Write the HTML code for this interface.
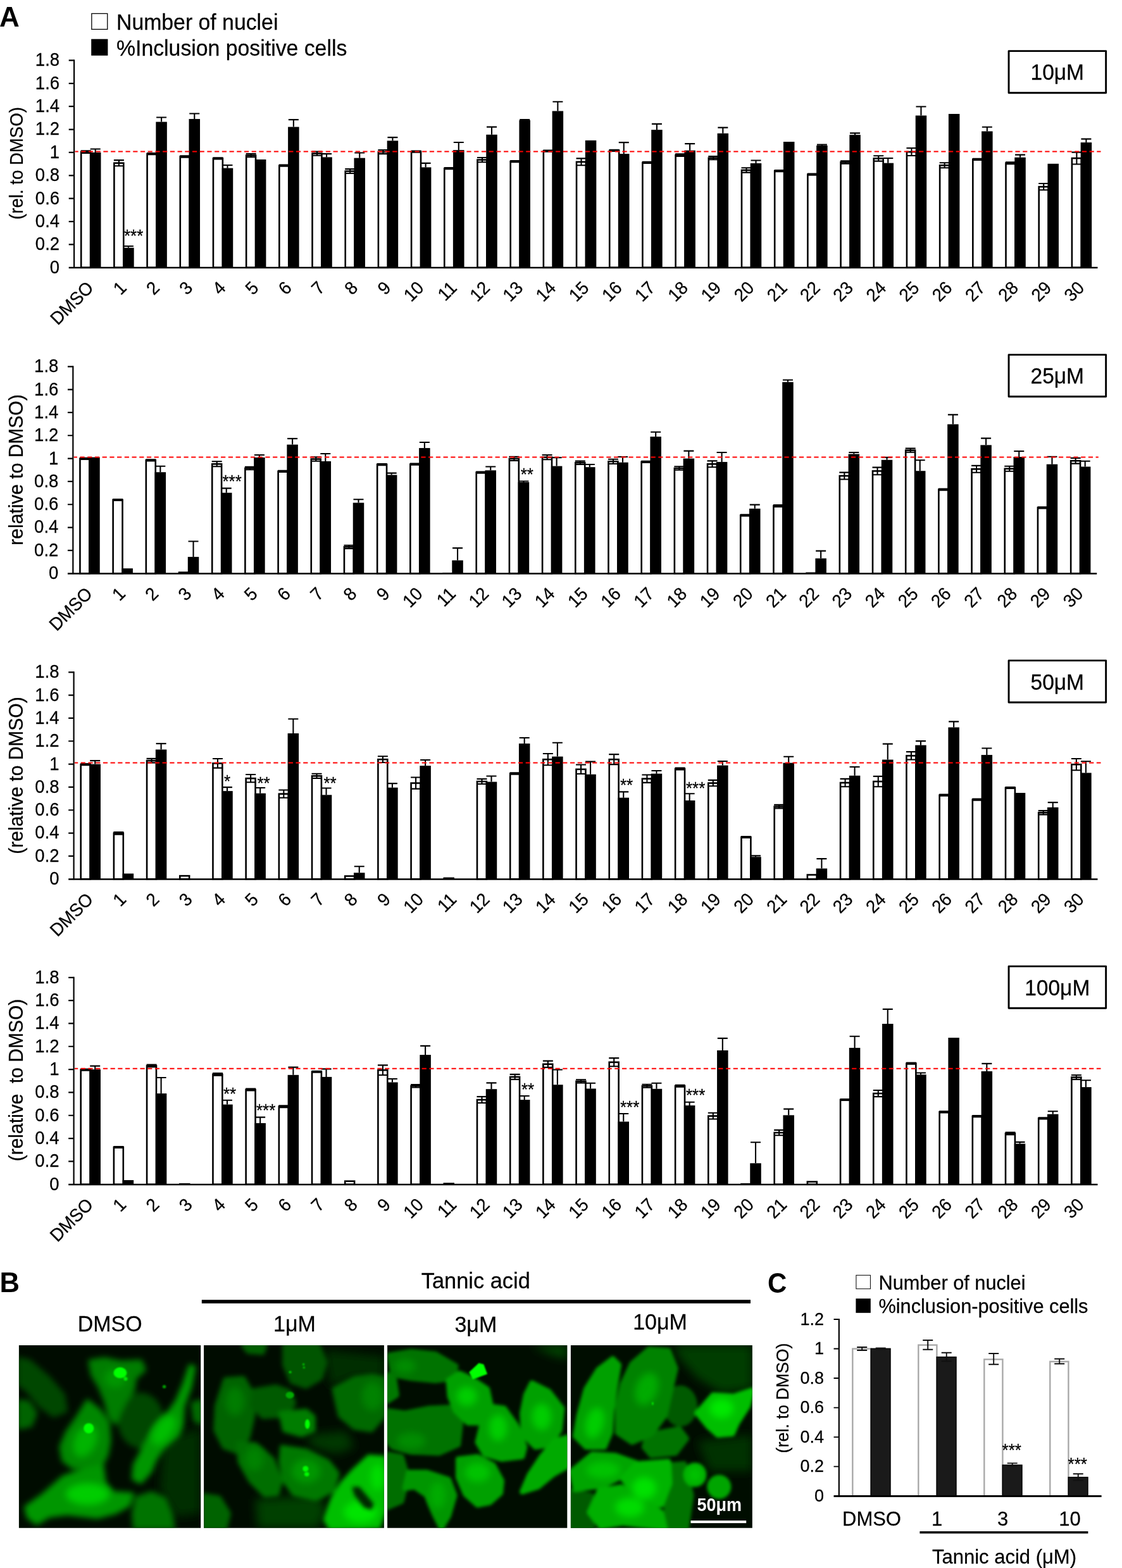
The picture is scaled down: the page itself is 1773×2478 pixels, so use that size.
<!DOCTYPE html>
<html lang="en"><head><meta charset="utf-8"><title>Figure</title>
<style>html,body{margin:0;padding:0;background:#fff}svg{display:block}text{font-family:"Liberation Sans",sans-serif;fill:#000;stroke:#000;stroke-width:.25px}.b{font-weight:bold;stroke-width:0}.w{fill:#fff;stroke:none}.tk{font-size:27.5px;text-anchor:end}.xl{font-size:27.5px;text-anchor:end}.st{font-size:26px}.bx{font-size:33.5px;text-anchor:middle}.lg{font-size:33.8px}.im{font-size:34px;text-anchor:middle}.ctk{font-size:26.9px;text-anchor:end}.cx{font-size:31px;text-anchor:middle}.cl{font-size:30.7px}.e{stroke:#000;stroke-width:2.1;fill:none}.wb{fill:#fff;stroke:#000;stroke-width:2.6}</style></head><body>
<svg width="1773" height="2478" viewBox="0 0 1773 2478">
<rect width="1773" height="2478" fill="#fff"/>
<text class="b" style="font-size:44px" transform="translate(-0.9 41.9) scale(1 1.01)">A</text>
<text class="b" style="font-size:43.5px" transform="translate(-0.6 2042.2) scale(1 1.02)">B</text>
<text class="b" style="font-size:42px" transform="translate(1213 2043.4) scale(1 1.04)">C</text>
<rect x="144.85" y="21.45" width="24.9" height="24.9" fill="#fff" stroke="#000" stroke-width="1.3"/>
<rect x="144.2" y="61.7" width="26.2" height="26.1" fill="#000"/>
<text class="lg" transform="translate(184 46.8) scale(1 1.04)">Number of nuclei</text>
<text class="lg" transform="translate(184 87.8) scale(1 1.04)">%Inclusion positive cells</text>
<g><rect class="wb" x="128.19" y="240.04" width="14.9" height="182.76"/><path d="M135.69 238.22V241.86M127.69 238.22h16M127.69 241.86h16" class="e"/><rect x="141.97" y="240.95" width="17.5" height="181.85" fill="#000"/><path d="M150.72 235.49V240.95M142.72 235.49h16" class="e"/><rect class="wb" x="180.39" y="257.68" width="14.9" height="165.12"/><path d="M187.89 253.13V262.23M179.89 253.13h16M179.89 262.23h16" class="e"/><rect x="194.16" y="391.52" width="17.5" height="31.28" fill="#000"/><path d="M202.91 388.98V391.52M194.91 388.98h16" class="e"/><rect class="wb" x="232.58" y="243.13" width="14.9" height="179.67"/><path d="M240.08 242.04V244.22M232.08 242.04h16M232.08 244.22h16" class="e"/><rect x="246.34" y="192.58" width="17.5" height="230.22" fill="#000"/><path d="M255.09 185.49V192.58M247.09 185.49h16" class="e"/><rect class="wb" x="284.76" y="247.5" width="14.9" height="175.3"/><path d="M292.26 246.41V248.59M284.26 246.41h16M284.26 248.59h16" class="e"/><rect x="298.53" y="188.03" width="17.5" height="234.77" fill="#000"/><path d="M307.28 179.48V188.03M299.28 179.48h16" class="e"/><rect class="wb" x="336.96" y="250.41" width="14.9" height="172.39"/><path d="M344.46 249.32V251.5M336.46 249.32h16M336.46 251.5h16" class="e"/><rect x="350.73" y="265.68" width="17.5" height="157.12" fill="#000"/><path d="M359.48 260.95V265.68M351.48 260.95h16" class="e"/><rect class="wb" x="389.14" y="245.68" width="14.9" height="177.12"/><path d="M396.64 243.13V248.22M388.64 243.13h16M388.64 248.22h16" class="e"/><rect x="402.91" y="252.04" width="17.5" height="170.76" fill="#000"/><rect class="wb" x="441.34" y="261.68" width="14.9" height="161.12"/><path d="M448.84 260.59V262.77M440.84 260.59h16M440.84 262.77h16" class="e"/><rect x="455.11" y="200.58" width="17.5" height="222.22" fill="#000"/><path d="M463.86 189.12V200.58M455.86 189.12h16" class="e"/><rect class="wb" x="493.52" y="242.59" width="14.9" height="180.21"/><path d="M501.02 239.5V245.68M493.02 239.5h16M493.02 245.68h16" class="e"/><rect x="507.29" y="248.41" width="17.5" height="174.39" fill="#000"/><path d="M516.04 243.13V248.41M508.04 243.13h16" class="e"/><rect class="wb" x="545.71" y="270.59" width="14.9" height="152.21"/><path d="M553.21 267.14V274.05M545.21 267.14h16M545.21 274.05h16" class="e"/><rect x="559.49" y="249.68" width="17.5" height="173.12" fill="#000"/><path d="M568.24 241.5V249.68M560.24 241.5h16" class="e"/><rect class="wb" x="597.9" y="240.04" width="14.9" height="182.76"/><path d="M605.4 236.95V243.13M597.4 236.95h16M597.4 243.13h16" class="e"/><rect x="611.67" y="222.4" width="17.5" height="200.4" fill="#000"/><path d="M620.42 217.13V222.4M612.42 217.13h16" class="e"/><rect class="wb" x="650.09" y="239.68" width="14.9" height="183.12"/><path d="M657.59 238.59V240.77M649.59 238.59h16M649.59 240.77h16" class="e"/><rect x="663.87" y="264.41" width="17.5" height="158.39" fill="#000"/><path d="M672.62 257.86V264.41M664.62 257.86h16" class="e"/><rect class="wb" x="702.28" y="266.23" width="14.9" height="156.57"/><path d="M709.78 265.14V267.32M701.78 265.14h16M701.78 267.32h16" class="e"/><rect x="716.05" y="237.13" width="17.5" height="185.67" fill="#000"/><path d="M724.8 224.95V237.13M716.8 224.95h16" class="e"/><rect class="wb" x="754.47" y="252.59" width="14.9" height="170.21"/><path d="M761.97 248.95V256.23M753.97 248.95h16M753.97 256.23h16" class="e"/><rect x="768.25" y="212.76" width="17.5" height="210.04" fill="#000"/><path d="M777 200.58V212.76M769 200.58h16" class="e"/><rect class="wb" x="806.66" y="255.13" width="14.9" height="167.67"/><path d="M814.16 254.04V256.23M806.16 254.04h16M806.16 256.23h16" class="e"/><rect x="820.43" y="190.03" width="17.5" height="232.77" fill="#000"/><path d="M829.18 188.94V190.03M821.18 188.94h16" class="e"/><rect class="wb" x="858.85" y="238.59" width="14.9" height="184.21"/><path d="M866.35 237.49V239.68M858.35 237.49h16M858.35 239.68h16" class="e"/><rect x="872.62" y="175.48" width="17.5" height="247.32" fill="#000"/><path d="M881.38 160.75V175.48M873.38 160.75h16" class="e"/><rect class="wb" x="911.04" y="255.86" width="14.9" height="166.94"/><path d="M918.54 250.41V261.32M910.54 250.41h16M910.54 261.32h16" class="e"/><rect x="924.81" y="221.86" width="17.5" height="200.94" fill="#000"/><rect class="wb" x="963.23" y="237.86" width="14.9" height="184.94"/><path d="M970.73 236.77V238.95M962.73 236.77h16M962.73 238.95h16" class="e"/><rect x="977" y="243.13" width="17.5" height="179.67" fill="#000"/><path d="M985.75 225.13V243.13M977.75 225.13h16" class="e"/><rect class="wb" x="1015.42" y="256.95" width="14.9" height="165.85"/><path d="M1022.92 255.86V258.04M1014.92 255.86h16M1014.92 258.04h16" class="e"/><rect x="1029.19" y="205.13" width="17.5" height="217.67" fill="#000"/><path d="M1037.94 195.85V205.13M1029.94 195.85h16" class="e"/><rect class="wb" x="1067.61" y="245.13" width="14.9" height="177.67"/><path d="M1075.11 243.31V246.95M1067.11 243.31h16M1067.11 246.95h16" class="e"/><rect x="1081.38" y="237.68" width="17.5" height="185.12" fill="#000"/><path d="M1090.13 227.13V237.68M1082.13 227.13h16" class="e"/><rect class="wb" x="1119.8" y="249.68" width="14.9" height="173.12"/><path d="M1127.3 247.13V252.22M1119.3 247.13h16M1119.3 252.22h16" class="e"/><rect x="1133.57" y="210.76" width="17.5" height="212.04" fill="#000"/><path d="M1142.32 201.67V210.76M1134.32 201.67h16" class="e"/><rect class="wb" x="1171.99" y="268.95" width="14.9" height="153.85"/><path d="M1179.49 265.32V272.59M1171.49 265.32h16M1171.49 272.59h16" class="e"/><rect x="1185.76" y="258.04" width="17.5" height="164.76" fill="#000"/><path d="M1194.51 253.5V258.04M1186.51 253.5h16" class="e"/><rect class="wb" x="1224.18" y="270.05" width="14.9" height="152.75"/><path d="M1231.68 268.95V271.14M1223.68 268.95h16M1223.68 271.14h16" class="e"/><rect x="1237.95" y="224.04" width="17.5" height="198.76" fill="#000"/><rect class="wb" x="1276.37" y="275.68" width="14.9" height="147.12"/><path d="M1283.87 274.59V276.77M1275.87 274.59h16M1275.87 276.77h16" class="e"/><rect x="1290.14" y="230.04" width="17.5" height="192.76" fill="#000"/><path d="M1298.89 228.58V230.04M1290.89 228.58h16" class="e"/><rect class="wb" x="1328.56" y="256.41" width="14.9" height="166.39"/><path d="M1336.06 254.23V258.59M1328.06 254.23h16M1328.06 258.59h16" class="e"/><rect x="1342.33" y="213.13" width="17.5" height="209.67" fill="#000"/><path d="M1351.08 210.4V213.13M1343.08 210.4h16" class="e"/><rect class="wb" x="1380.75" y="250.41" width="14.9" height="172.39"/><path d="M1388.25 246.22V254.59M1380.25 246.22h16M1380.25 254.59h16" class="e"/><rect x="1394.52" y="257.68" width="17.5" height="165.12" fill="#000"/><path d="M1403.27 250.04V257.68M1395.27 250.04h16" class="e"/><rect class="wb" x="1432.94" y="240.04" width="14.9" height="182.76"/><path d="M1440.44 234.04V246.04M1432.44 234.04h16M1432.44 246.04h16" class="e"/><rect x="1446.71" y="182.58" width="17.5" height="240.22" fill="#000"/><path d="M1455.46 168.57V182.58M1447.46 168.57h16" class="e"/><rect class="wb" x="1485.13" y="261.32" width="14.9" height="161.48"/><path d="M1492.63 257.32V265.32M1484.63 257.32h16M1484.63 265.32h16" class="e"/><rect x="1498.9" y="180.03" width="17.5" height="242.77" fill="#000"/><rect class="wb" x="1537.32" y="251.86" width="14.9" height="170.94"/><path d="M1544.82 250.77V252.95M1536.82 250.77h16M1536.82 252.95h16" class="e"/><rect x="1551.09" y="207.49" width="17.5" height="215.31" fill="#000"/><path d="M1559.84 200.76V207.49M1551.84 200.76h16" class="e"/><rect class="wb" x="1589.51" y="257.68" width="14.9" height="165.12"/><path d="M1597.01 256.23V259.13M1589.01 256.23h16M1589.01 259.13h16" class="e"/><rect x="1603.28" y="248.77" width="17.5" height="174.03" fill="#000"/><path d="M1612.03 244.59V248.77M1604.03 244.59h16" class="e"/><rect class="wb" x="1641.7" y="295.14" width="14.9" height="127.66"/><path d="M1649.2 290.05V300.23M1641.2 290.05h16M1641.2 300.23h16" class="e"/><rect x="1655.47" y="258.77" width="17.5" height="164.03" fill="#000"/><rect class="wb" x="1693.89" y="250.04" width="14.9" height="172.76"/><path d="M1701.39 240.59V259.5M1693.39 240.59h16M1693.39 259.5h16" class="e"/><rect x="1707.66" y="225.13" width="17.5" height="197.67" fill="#000"/><path d="M1716.41 219.67V225.13M1708.41 219.67h16" class="e"/></g>
<path d="M117.1 94.37V423.8" stroke="#000" stroke-width="2.2" fill="none"/>
<path d="M108.7 423H1734.5" stroke="#000" stroke-width="2.6" fill="none"/>
<path d="M108.7 386.43h8.4M108.7 350.06h8.4M108.7 313.69h8.4M108.7 277.32h8.4M108.7 240.95h8.4M108.7 204.58h8.4M108.7 168.21h8.4M108.7 131.84h8.4M108.7 95.47h8.4" stroke="#000" stroke-width="2.2" fill="none"/>
<text class="tk" transform="translate(94.1 431.7) scale(1 1.04)">0</text>
<text class="tk" transform="translate(94.1 395.33) scale(1 1.04)">0.2</text>
<text class="tk" transform="translate(94.1 358.96) scale(1 1.04)">0.4</text>
<text class="tk" transform="translate(94.1 322.59) scale(1 1.04)">0.6</text>
<text class="tk" transform="translate(94.1 286.22) scale(1 1.04)">0.8</text>
<text class="tk" transform="translate(94.1 249.85) scale(1 1.04)">1</text>
<text class="tk" transform="translate(94.1 213.48) scale(1 1.04)">1.2</text>
<text class="tk" transform="translate(94.1 177.11) scale(1 1.04)">1.4</text>
<text class="tk" transform="translate(94.1 140.74) scale(1 1.04)">1.6</text>
<text class="tk" transform="translate(94.1 104.37) scale(1 1.04)">1.8</text>
<path d="M118.5 239.5H1739.5" stroke="#f00" stroke-width="2" stroke-dasharray="7.2 4.516" stroke-dashoffset="2" fill="none"/>
<text class="xl" transform="translate(149.5 456.7) rotate(-45) scale(1 1.04)">DMSO</text>
<text class="xl" transform="translate(201.69 456.7) rotate(-45) scale(1 1.04)">1</text>
<text class="xl" transform="translate(253.88 456.7) rotate(-45) scale(1 1.04)">2</text>
<text class="xl" transform="translate(306.06 456.7) rotate(-45) scale(1 1.04)">3</text>
<text class="xl" transform="translate(358.25 456.7) rotate(-45) scale(1 1.04)">4</text>
<text class="xl" transform="translate(410.44 456.7) rotate(-45) scale(1 1.04)">5</text>
<text class="xl" transform="translate(462.63 456.7) rotate(-45) scale(1 1.04)">6</text>
<text class="xl" transform="translate(514.82 456.7) rotate(-45) scale(1 1.04)">7</text>
<text class="xl" transform="translate(567.01 456.7) rotate(-45) scale(1 1.04)">8</text>
<text class="xl" transform="translate(619.2 456.7) rotate(-45) scale(1 1.04)">9</text>
<text class="xl" transform="translate(671.39 456.7) rotate(-45) scale(1 1.04)">10</text>
<text class="xl" transform="translate(723.58 456.7) rotate(-45) scale(1 1.04)">11</text>
<text class="xl" transform="translate(775.77 456.7) rotate(-45) scale(1 1.04)">12</text>
<text class="xl" transform="translate(827.96 456.7) rotate(-45) scale(1 1.04)">13</text>
<text class="xl" transform="translate(880.15 456.7) rotate(-45) scale(1 1.04)">14</text>
<text class="xl" transform="translate(932.34 456.7) rotate(-45) scale(1 1.04)">15</text>
<text class="xl" transform="translate(984.53 456.7) rotate(-45) scale(1 1.04)">16</text>
<text class="xl" transform="translate(1036.72 456.7) rotate(-45) scale(1 1.04)">17</text>
<text class="xl" transform="translate(1088.91 456.7) rotate(-45) scale(1 1.04)">18</text>
<text class="xl" transform="translate(1141.11 456.7) rotate(-45) scale(1 1.04)">19</text>
<text class="xl" transform="translate(1193.3 456.7) rotate(-45) scale(1 1.04)">20</text>
<text class="xl" transform="translate(1245.49 456.7) rotate(-45) scale(1 1.04)">21</text>
<text class="xl" transform="translate(1297.67 456.7) rotate(-45) scale(1 1.04)">22</text>
<text class="xl" transform="translate(1349.87 456.7) rotate(-45) scale(1 1.04)">23</text>
<text class="xl" transform="translate(1402.06 456.7) rotate(-45) scale(1 1.04)">24</text>
<text class="xl" transform="translate(1454.25 456.7) rotate(-45) scale(1 1.04)">25</text>
<text class="xl" transform="translate(1506.43 456.7) rotate(-45) scale(1 1.04)">26</text>
<text class="xl" transform="translate(1558.62 456.7) rotate(-45) scale(1 1.04)">27</text>
<text class="xl" transform="translate(1610.82 456.7) rotate(-45) scale(1 1.04)">28</text>
<text class="xl" transform="translate(1663.01 456.7) rotate(-45) scale(1 1.04)">29</text>
<text class="xl" transform="translate(1715.19 456.7) rotate(-45) scale(1 1.04)">30</text>
<text style="font-size:27.6px" text-anchor="middle" transform="translate(35.5 258) rotate(-90) scale(1 1.04)" xml:space="preserve">(rel. to DMSO)</text>
<rect x="1594.05" y="80.65" width="153.6" height="66.15" fill="#fff" stroke="#000" stroke-width="2.9" stroke-linejoin="round"/>
<text class="bx" transform="translate(1670.75 126.4) scale(1 1.04)">10μM</text>
<text class="st" transform="translate(196 381.7) scale(1 1.04)">***</text>
<g><rect class="wb" x="126.44" y="724.78" width="14.9" height="181.47"/><path d="M133.94 723.69V725.87M125.94 723.69h16M125.94 725.87h16" class="e"/><rect x="140.22" y="722.6" width="17.5" height="183.65" fill="#000"/><rect class="wb" x="178.64" y="789.99" width="14.9" height="116.26"/><path d="M186.14 789.09V790.9M178.14 789.09h16M178.14 790.9h16" class="e"/><rect x="192.41" y="898.26" width="17.5" height="7.99" fill="#000"/><rect class="wb" x="230.83" y="727.32" width="14.9" height="178.93"/><path d="M238.33 726.23V728.41M230.33 726.23h16M230.33 728.41h16" class="e"/><rect x="244.59" y="746.22" width="17.5" height="160.03" fill="#000"/><path d="M253.34 736.77V746.22M245.34 736.77h16" class="e"/><rect x="281.71" y="903.34" width="17.5" height="2.91" fill="#000"/><rect x="296.78" y="880.09" width="17.5" height="26.16" fill="#000"/><path d="M305.53 855.57V880.09M297.53 855.57h16" class="e"/><rect class="wb" x="335.21" y="733.32" width="14.9" height="172.93"/><path d="M342.71 729.32V737.32M334.71 729.32h16M334.71 737.32h16" class="e"/><rect x="348.98" y="778.73" width="17.5" height="127.52" fill="#000"/><path d="M357.73 771.65V778.73M349.73 771.65h16" class="e"/><rect class="wb" x="387.39" y="740.04" width="14.9" height="166.21"/><path d="M394.89 737.86V742.22M386.89 737.86h16M386.89 742.22h16" class="e"/><rect x="401.16" y="722.97" width="17.5" height="183.28" fill="#000"/><path d="M409.91 718.97V722.97M401.91 718.97h16" class="e"/><rect class="wb" x="439.59" y="744.94" width="14.9" height="161.31"/><path d="M447.09 743.85V746.03M439.09 743.85h16M439.09 746.03h16" class="e"/><rect x="453.36" y="702.62" width="17.5" height="203.63" fill="#000"/><path d="M462.11 693.17V702.62M454.11 693.17h16" class="e"/><rect class="wb" x="491.77" y="725.51" width="14.9" height="180.74"/><path d="M499.27 722.24V728.78M491.27 722.24h16M491.27 728.78h16" class="e"/><rect x="505.54" y="728.96" width="17.5" height="177.29" fill="#000"/><path d="M514.29 716.97V728.96M506.29 716.97h16" class="e"/><rect class="wb" x="543.96" y="864.29" width="14.9" height="41.96"/><path d="M551.46 861.75V866.83M543.46 861.75h16M543.46 866.83h16" class="e"/><rect x="557.74" y="794.54" width="17.5" height="111.71" fill="#000"/><path d="M566.49 789.27V794.54M558.49 789.27h16" class="e"/><rect class="wb" x="596.15" y="734.05" width="14.9" height="172.2"/><path d="M603.65 732.96V735.14M595.65 732.96h16M595.65 735.14h16" class="e"/><rect x="609.92" y="750.58" width="17.5" height="155.67" fill="#000"/><path d="M618.67 747.67V750.58M610.67 747.67h16" class="e"/><rect class="wb" x="648.34" y="733.68" width="14.9" height="172.57"/><path d="M655.84 732.59V734.77M647.84 732.59h16M647.84 734.77h16" class="e"/><rect x="662.12" y="708.07" width="17.5" height="198.18" fill="#000"/><path d="M670.87 698.99V708.07M662.87 698.99h16" class="e"/><rect x="699.23" y="904.98" width="17.5" height="1.27" fill="#000"/><rect x="714.3" y="885.54" width="17.5" height="20.71" fill="#000"/><path d="M723.05 866.11V885.54M715.05 866.11h16" class="e"/><rect class="wb" x="752.72" y="746.58" width="14.9" height="159.67"/><path d="M760.22 745.49V747.67M752.22 745.49h16M752.22 747.67h16" class="e"/><rect x="766.5" y="743.31" width="17.5" height="162.94" fill="#000"/><path d="M775.25 737.5V743.31M767.25 737.5h16" class="e"/><rect class="wb" x="804.91" y="724.96" width="14.9" height="181.29"/><path d="M812.41 721.88V728.05M804.41 721.88h16M804.41 728.05h16" class="e"/><rect x="818.68" y="762.02" width="17.5" height="144.23" fill="#000"/><path d="M827.43 760.57V762.02M819.43 760.57h16" class="e"/><rect class="wb" x="857.1" y="722.6" width="14.9" height="183.65"/><path d="M864.6 718.97V726.23M856.6 718.97h16M856.6 726.23h16" class="e"/><rect x="870.88" y="736.59" width="17.5" height="169.66" fill="#000"/><path d="M879.62 723.15V736.59M871.62 723.15h16" class="e"/><rect class="wb" x="909.29" y="731.32" width="14.9" height="174.93"/><path d="M916.79 728.6V734.05M908.79 728.6h16M908.79 734.05h16" class="e"/><rect x="923.06" y="738.22" width="17.5" height="168.03" fill="#000"/><path d="M931.81 734.05V738.22M923.81 734.05h16" class="e"/><rect class="wb" x="961.48" y="729.32" width="14.9" height="176.93"/><path d="M968.98 725.69V732.96M960.98 725.69h16M960.98 732.96h16" class="e"/><rect x="975.25" y="730.78" width="17.5" height="175.47" fill="#000"/><path d="M984 722.06V730.78M976 722.06h16" class="e"/><rect class="wb" x="1013.67" y="729.87" width="14.9" height="176.38"/><path d="M1021.17 728.78V730.96M1013.17 728.78h16M1013.17 730.96h16" class="e"/><rect x="1027.44" y="690.09" width="17.5" height="216.16" fill="#000"/><path d="M1036.19 682.82V690.09M1028.19 682.82h16" class="e"/><rect class="wb" x="1065.86" y="740.04" width="14.9" height="166.21"/><path d="M1073.36 737.32V742.76M1065.36 737.32h16M1065.36 742.76h16" class="e"/><rect x="1079.63" y="724.6" width="17.5" height="181.65" fill="#000"/><path d="M1088.38 712.61V724.6M1080.38 712.61h16" class="e"/><rect class="wb" x="1118.05" y="733.32" width="14.9" height="172.93"/><path d="M1125.55 728.41V738.22M1117.55 728.41h16M1117.55 738.22h16" class="e"/><rect x="1131.82" y="730.05" width="17.5" height="176.2" fill="#000"/><path d="M1140.57 714.97V730.05M1132.57 714.97h16" class="e"/><rect class="wb" x="1170.24" y="814.34" width="14.9" height="91.91"/><path d="M1177.74 813.25V815.42M1169.74 813.25h16M1169.74 815.42h16" class="e"/><rect x="1184.01" y="803.8" width="17.5" height="102.45" fill="#000"/><path d="M1192.76 797.62V803.8M1184.76 797.62h16" class="e"/><rect class="wb" x="1222.43" y="799.44" width="14.9" height="106.81"/><path d="M1229.93 797.99V800.89M1221.93 797.99h16M1221.93 800.89h16" class="e"/><rect x="1236.2" y="603.8" width="17.5" height="302.45" fill="#000"/><path d="M1244.95 600.53V603.8M1236.95 600.53h16" class="e"/><rect x="1273.32" y="904.43" width="17.5" height="1.82" fill="#000"/><rect x="1288.39" y="882.45" width="17.5" height="23.8" fill="#000"/><path d="M1297.14 870.65V882.45M1289.14 870.65h16" class="e"/><rect class="wb" x="1326.81" y="752.03" width="14.9" height="154.22"/><path d="M1334.31 746.58V757.48M1326.31 746.58h16M1326.31 757.48h16" class="e"/><rect x="1340.58" y="717.52" width="17.5" height="188.73" fill="#000"/><path d="M1349.33 714.97V717.52M1341.33 714.97h16" class="e"/><rect class="wb" x="1379" y="744.4" width="14.9" height="161.85"/><path d="M1386.5 738.59V750.21M1378.5 738.59h16M1378.5 750.21h16" class="e"/><rect x="1392.77" y="726.78" width="17.5" height="179.47" fill="#000"/><path d="M1401.52 722.78V726.78M1393.52 722.78h16" class="e"/><rect class="wb" x="1431.19" y="711.7" width="14.9" height="194.55"/><path d="M1438.69 708.61V714.79M1430.69 708.61h16M1430.69 714.79h16" class="e"/><rect x="1444.96" y="744.22" width="17.5" height="162.03" fill="#000"/><path d="M1453.71 727.32V744.22M1445.71 727.32h16" class="e"/><rect class="wb" x="1483.38" y="773.65" width="14.9" height="132.6"/><path d="M1490.88 772.56V774.74M1482.88 772.56h16M1482.88 774.74h16" class="e"/><rect x="1497.15" y="670.47" width="17.5" height="235.78" fill="#000"/><path d="M1505.9 655.39V670.47M1497.9 655.39h16" class="e"/><rect class="wb" x="1535.57" y="741.31" width="14.9" height="164.94"/><path d="M1543.07 735.86V746.76M1535.07 735.86h16M1535.07 746.76h16" class="e"/><rect x="1549.34" y="703.35" width="17.5" height="202.9" fill="#000"/><path d="M1558.09 692.63V703.35M1550.09 692.63h16" class="e"/><rect class="wb" x="1587.76" y="740.77" width="14.9" height="165.48"/><path d="M1595.26 736.77V744.76M1587.26 736.77h16M1587.26 744.76h16" class="e"/><rect x="1601.53" y="722.06" width="17.5" height="184.19" fill="#000"/><path d="M1610.28 712.97V722.06M1602.28 712.97h16" class="e"/><rect class="wb" x="1639.95" y="802.35" width="14.9" height="103.9"/><path d="M1647.45 801.26V803.44M1639.45 801.26h16M1639.45 803.44h16" class="e"/><rect x="1653.72" y="733.68" width="17.5" height="172.57" fill="#000"/><path d="M1662.47 721.69V733.68M1654.47 721.69h16" class="e"/><rect class="wb" x="1692.14" y="728.23" width="14.9" height="178.02"/><path d="M1699.64 723.87V732.59M1691.64 723.87h16M1691.64 732.59h16" class="e"/><rect x="1705.91" y="737.5" width="17.5" height="168.75" fill="#000"/><path d="M1714.66 728.78V737.5M1706.66 728.78h16" class="e"/></g>
<path d="M115.35 578.18V907.25" stroke="#000" stroke-width="2.2" fill="none"/>
<path d="M106.95 906.45H1733.25" stroke="#000" stroke-width="2.6" fill="none"/>
<path d="M106.95 869.92h8.4M106.95 833.59h8.4M106.95 797.26h8.4M106.95 760.93h8.4M106.95 724.6h8.4M106.95 688.27h8.4M106.95 651.94h8.4M106.95 615.61h8.4M106.95 579.28h8.4" stroke="#000" stroke-width="2.2" fill="none"/>
<text class="tk" transform="translate(92.35 915.15) scale(1 1.04)">0</text>
<text class="tk" transform="translate(92.35 878.82) scale(1 1.04)">0.2</text>
<text class="tk" transform="translate(92.35 842.49) scale(1 1.04)">0.4</text>
<text class="tk" transform="translate(92.35 806.16) scale(1 1.04)">0.6</text>
<text class="tk" transform="translate(92.35 769.83) scale(1 1.04)">0.8</text>
<text class="tk" transform="translate(92.35 733.5) scale(1 1.04)">1</text>
<text class="tk" transform="translate(92.35 697.17) scale(1 1.04)">1.2</text>
<text class="tk" transform="translate(92.35 660.84) scale(1 1.04)">1.4</text>
<text class="tk" transform="translate(92.35 624.51) scale(1 1.04)">1.6</text>
<text class="tk" transform="translate(92.35 588.18) scale(1 1.04)">1.8</text>
<path d="M116.75 722.5H1735.75" stroke="#f00" stroke-width="2" stroke-dasharray="7.2 4.516" stroke-dashoffset="2" fill="none"/>
<text class="xl" transform="translate(147.75 940.15) rotate(-45) scale(1 1.04)">DMSO</text>
<text class="xl" transform="translate(199.94 940.15) rotate(-45) scale(1 1.04)">1</text>
<text class="xl" transform="translate(252.12 940.15) rotate(-45) scale(1 1.04)">2</text>
<text class="xl" transform="translate(304.31 940.15) rotate(-45) scale(1 1.04)">3</text>
<text class="xl" transform="translate(356.5 940.15) rotate(-45) scale(1 1.04)">4</text>
<text class="xl" transform="translate(408.69 940.15) rotate(-45) scale(1 1.04)">5</text>
<text class="xl" transform="translate(460.88 940.15) rotate(-45) scale(1 1.04)">6</text>
<text class="xl" transform="translate(513.07 940.15) rotate(-45) scale(1 1.04)">7</text>
<text class="xl" transform="translate(565.26 940.15) rotate(-45) scale(1 1.04)">8</text>
<text class="xl" transform="translate(617.45 940.15) rotate(-45) scale(1 1.04)">9</text>
<text class="xl" transform="translate(669.64 940.15) rotate(-45) scale(1 1.04)">10</text>
<text class="xl" transform="translate(721.83 940.15) rotate(-45) scale(1 1.04)">11</text>
<text class="xl" transform="translate(774.02 940.15) rotate(-45) scale(1 1.04)">12</text>
<text class="xl" transform="translate(826.21 940.15) rotate(-45) scale(1 1.04)">13</text>
<text class="xl" transform="translate(878.4 940.15) rotate(-45) scale(1 1.04)">14</text>
<text class="xl" transform="translate(930.59 940.15) rotate(-45) scale(1 1.04)">15</text>
<text class="xl" transform="translate(982.78 940.15) rotate(-45) scale(1 1.04)">16</text>
<text class="xl" transform="translate(1034.97 940.15) rotate(-45) scale(1 1.04)">17</text>
<text class="xl" transform="translate(1087.16 940.15) rotate(-45) scale(1 1.04)">18</text>
<text class="xl" transform="translate(1139.36 940.15) rotate(-45) scale(1 1.04)">19</text>
<text class="xl" transform="translate(1191.55 940.15) rotate(-45) scale(1 1.04)">20</text>
<text class="xl" transform="translate(1243.74 940.15) rotate(-45) scale(1 1.04)">21</text>
<text class="xl" transform="translate(1295.92 940.15) rotate(-45) scale(1 1.04)">22</text>
<text class="xl" transform="translate(1348.12 940.15) rotate(-45) scale(1 1.04)">23</text>
<text class="xl" transform="translate(1400.31 940.15) rotate(-45) scale(1 1.04)">24</text>
<text class="xl" transform="translate(1452.5 940.15) rotate(-45) scale(1 1.04)">25</text>
<text class="xl" transform="translate(1504.68 940.15) rotate(-45) scale(1 1.04)">26</text>
<text class="xl" transform="translate(1556.88 940.15) rotate(-45) scale(1 1.04)">27</text>
<text class="xl" transform="translate(1609.07 940.15) rotate(-45) scale(1 1.04)">28</text>
<text class="xl" transform="translate(1661.26 940.15) rotate(-45) scale(1 1.04)">29</text>
<text class="xl" transform="translate(1713.44 940.15) rotate(-45) scale(1 1.04)">30</text>
<text style="font-size:30px" text-anchor="middle" transform="translate(35.5 742.5) rotate(-90) scale(1 1.04)" xml:space="preserve">relative to DMSO)</text>
<rect x="1594.05" y="560.65" width="153.6" height="66.15" fill="#fff" stroke="#000" stroke-width="2.9" stroke-linejoin="round"/>
<text class="bx" transform="translate(1670.75 606.4) scale(1 1.04)">25μM</text>
<text class="st" transform="translate(351.5 769.7) scale(1 1.04)">***</text>
<text class="st" transform="translate(822.75 758.7) scale(1 1.04)">**</text>
<g><rect class="wb" x="127.69" y="1208.14" width="14.9" height="181.11"/><path d="M135.19 1207.06V1209.23M127.19 1207.06h16M127.19 1209.23h16" class="e"/><rect x="141.47" y="1207.6" width="17.5" height="181.65" fill="#000"/><path d="M150.22 1202.15V1207.6M142.22 1202.15h16" class="e"/><rect class="wb" x="179.89" y="1316.77" width="14.9" height="72.48"/><path d="M187.39 1314.96V1318.59M179.39 1314.96h16M179.39 1318.59h16" class="e"/><rect x="193.66" y="1380.53" width="17.5" height="8.72" fill="#000"/><rect class="wb" x="232.08" y="1202.15" width="14.9" height="187.1"/><path d="M239.58 1198.88V1205.42M231.58 1198.88h16M231.58 1205.42h16" class="e"/><rect x="245.84" y="1184.53" width="17.5" height="204.72" fill="#000"/><path d="M254.59 1175.08V1184.53M246.59 1175.08h16" class="e"/><rect class="wb" x="284.26" y="1384.16" width="14.9" height="5.09"/><rect class="wb" x="336.46" y="1206.33" width="14.9" height="182.92"/><path d="M343.96 1199.06V1213.59M335.96 1199.06h16M335.96 1213.59h16" class="e"/><rect x="350.23" y="1250.11" width="17.5" height="139.14" fill="#000"/><path d="M358.98 1244.11V1250.11M350.98 1244.11h16" class="e"/><rect class="wb" x="388.64" y="1230.12" width="14.9" height="159.13"/><path d="M396.14 1223.95V1236.3M388.14 1223.95h16M388.14 1236.3h16" class="e"/><rect x="402.41" y="1253.74" width="17.5" height="135.51" fill="#000"/><path d="M411.16 1245.02V1253.74M403.16 1245.02h16" class="e"/><rect class="wb" x="440.84" y="1254.65" width="14.9" height="134.6"/><path d="M448.34 1248.47V1260.82M440.34 1248.47h16M440.34 1260.82h16" class="e"/><rect x="454.61" y="1158.92" width="17.5" height="230.33" fill="#000"/><path d="M463.36 1136.21V1158.92M455.36 1136.21h16" class="e"/><rect class="wb" x="493.02" y="1226.31" width="14.9" height="162.94"/><path d="M500.52 1222.68V1229.94M492.52 1222.68h16M492.52 1229.94h16" class="e"/><rect x="506.79" y="1256.28" width="17.5" height="132.97" fill="#000"/><path d="M515.54 1245.56V1256.28M507.54 1245.56h16" class="e"/><rect class="wb" x="545.21" y="1384.53" width="14.9" height="4.72"/><rect x="558.99" y="1379.26" width="17.5" height="9.99" fill="#000"/><path d="M567.74 1369.27V1379.26M559.74 1369.27h16" class="e"/><rect class="wb" x="597.4" y="1200.15" width="14.9" height="189.1"/><path d="M604.9 1195.25V1205.06M596.9 1195.25h16M596.9 1205.06h16" class="e"/><rect x="611.17" y="1244.66" width="17.5" height="144.59" fill="#000"/><path d="M619.92 1238.12V1244.66M611.92 1238.12h16" class="e"/><rect class="wb" x="649.59" y="1237.57" width="14.9" height="151.68"/><path d="M657.09 1228.49V1246.65M649.09 1228.49h16M649.09 1246.65h16" class="e"/><rect x="663.37" y="1210.14" width="17.5" height="179.11" fill="#000"/><path d="M672.12 1201.06V1210.14M664.12 1201.06h16" class="e"/><rect x="700.48" y="1386.53" width="17.5" height="2.72" fill="#000"/><rect class="wb" x="753.97" y="1235.03" width="14.9" height="154.22"/><path d="M761.47 1231.03V1239.03M753.47 1231.03h16M753.47 1239.03h16" class="e"/><rect x="767.75" y="1235.57" width="17.5" height="153.68" fill="#000"/><path d="M776.5 1226.49V1235.57M768.5 1226.49h16" class="e"/><rect class="wb" x="806.16" y="1222.5" width="14.9" height="166.75"/><path d="M813.66 1221.41V1223.59M805.66 1221.41h16M805.66 1223.59h16" class="e"/><rect x="819.93" y="1175.08" width="17.5" height="214.17" fill="#000"/><path d="M828.68 1166V1175.08M820.68 1166h16" class="e"/><rect class="wb" x="858.35" y="1200.15" width="14.9" height="189.1"/><path d="M865.85 1191.07V1209.23M857.85 1191.07h16M857.85 1209.23h16" class="e"/><rect x="872.12" y="1195.61" width="17.5" height="193.64" fill="#000"/><path d="M880.88 1173.81V1195.61M872.88 1173.81h16" class="e"/><rect class="wb" x="910.54" y="1215.77" width="14.9" height="173.48"/><path d="M918.04 1208.51V1223.04M910.04 1208.51h16M910.04 1223.04h16" class="e"/><rect x="924.31" y="1223.77" width="17.5" height="165.48" fill="#000"/><path d="M933.06 1203.6V1223.77M925.06 1203.6h16" class="e"/><rect class="wb" x="962.73" y="1200.15" width="14.9" height="189.1"/><path d="M970.23 1192.16V1208.14M962.23 1192.16h16M962.23 1208.14h16" class="e"/><rect x="976.5" y="1260.64" width="17.5" height="128.61" fill="#000"/><path d="M985.25 1251.38V1260.64M977.25 1251.38h16" class="e"/><rect class="wb" x="1014.92" y="1230.67" width="14.9" height="158.58"/><path d="M1022.42 1224.49V1236.85M1014.42 1224.49h16M1014.42 1236.85h16" class="e"/><rect x="1028.69" y="1222.68" width="17.5" height="166.57" fill="#000"/><path d="M1037.44 1217.95V1222.68M1029.44 1217.95h16" class="e"/><rect class="wb" x="1067.11" y="1215.05" width="14.9" height="174.2"/><path d="M1074.61 1213.59V1216.5M1066.61 1213.59h16M1066.61 1216.5h16" class="e"/><rect x="1080.88" y="1265" width="17.5" height="124.25" fill="#000"/><path d="M1089.63 1254.28V1265M1081.63 1254.28h16" class="e"/><rect class="wb" x="1119.3" y="1237.57" width="14.9" height="151.68"/><path d="M1126.8 1232.85V1242.3M1118.8 1232.85h16M1118.8 1242.3h16" class="e"/><rect x="1133.07" y="1209.6" width="17.5" height="179.65" fill="#000"/><path d="M1141.82 1203.06V1209.6M1133.82 1203.06h16" class="e"/><rect class="wb" x="1171.49" y="1322.95" width="14.9" height="66.3"/><path d="M1178.99 1322.04V1323.86M1170.99 1322.04h16M1170.99 1323.86h16" class="e"/><rect x="1185.26" y="1354.19" width="17.5" height="35.06" fill="#000"/><path d="M1194.01 1352.38V1354.19M1186.01 1352.38h16" class="e"/><rect class="wb" x="1223.68" y="1274.63" width="14.9" height="114.62"/><path d="M1231.18 1271.9V1277.35M1223.18 1271.9h16M1223.18 1277.35h16" class="e"/><rect x="1237.45" y="1205.6" width="17.5" height="183.65" fill="#000"/><path d="M1246.2 1195.79V1205.6M1238.2 1195.79h16" class="e"/><rect class="wb" x="1275.87" y="1382.53" width="14.9" height="6.72"/><rect x="1289.64" y="1372.54" width="17.5" height="16.71" fill="#000"/><path d="M1298.39 1357.1V1372.54M1290.39 1357.1h16" class="e"/><rect class="wb" x="1328.06" y="1237.03" width="14.9" height="152.22"/><path d="M1335.56 1230.85V1243.2M1327.56 1230.85h16M1327.56 1243.2h16" class="e"/><rect x="1341.83" y="1225.76" width="17.5" height="163.49" fill="#000"/><path d="M1350.58 1211.96V1225.76M1342.58 1211.96h16" class="e"/><rect class="wb" x="1380.25" y="1235.03" width="14.9" height="154.22"/><path d="M1387.75 1226.85V1243.2M1379.75 1226.85h16M1379.75 1243.2h16" class="e"/><rect x="1394.02" y="1200.52" width="17.5" height="188.73" fill="#000"/><path d="M1402.77 1175.63V1200.52M1394.77 1175.63h16" class="e"/><rect class="wb" x="1432.44" y="1194.34" width="14.9" height="194.91"/><path d="M1439.94 1188.16V1200.52M1431.94 1188.16h16M1431.94 1200.52h16" class="e"/><rect x="1446.21" y="1177.63" width="17.5" height="211.62" fill="#000"/><path d="M1454.96 1171.09V1177.63M1446.96 1171.09h16" class="e"/><rect class="wb" x="1484.63" y="1256.65" width="14.9" height="132.6"/><path d="M1492.13 1255.56V1257.74M1484.13 1255.56h16M1484.13 1257.74h16" class="e"/><rect x="1498.4" y="1149.47" width="17.5" height="239.78" fill="#000"/><path d="M1507.15 1140.39V1149.47M1499.15 1140.39h16" class="e"/><rect class="wb" x="1536.82" y="1263.73" width="14.9" height="125.52"/><path d="M1544.32 1262.64V1264.82M1536.32 1262.64h16M1536.32 1264.82h16" class="e"/><rect x="1550.59" y="1193.07" width="17.5" height="196.18" fill="#000"/><path d="M1559.34 1182.53V1193.07M1551.34 1182.53h16" class="e"/><rect class="wb" x="1589.01" y="1245.02" width="14.9" height="144.23"/><path d="M1596.51 1244.11V1245.93M1588.51 1244.11h16M1588.51 1245.93h16" class="e"/><rect x="1602.78" y="1253.01" width="17.5" height="136.24" fill="#000"/><rect class="wb" x="1641.2" y="1284.26" width="14.9" height="104.99"/><path d="M1648.7 1281.17V1287.34M1640.7 1281.17h16M1640.7 1287.34h16" class="e"/><rect x="1654.97" y="1275.9" width="17.5" height="113.35" fill="#000"/><path d="M1663.72 1268.09V1275.9M1655.72 1268.09h16" class="e"/><rect class="wb" x="1693.39" y="1208.14" width="14.9" height="181.11"/><path d="M1700.89 1199.06V1217.23M1692.89 1199.06h16M1692.89 1217.23h16" class="e"/><rect x="1707.16" y="1221.41" width="17.5" height="167.84" fill="#000"/><path d="M1715.91 1203.24V1221.41M1707.91 1203.24h16" class="e"/></g>
<path d="M116.6 1061.18V1390.25" stroke="#000" stroke-width="2.2" fill="none"/>
<path d="M108.2 1389.45H1734.5" stroke="#000" stroke-width="2.6" fill="none"/>
<path d="M108.2 1352.92h8.4M108.2 1316.59h8.4M108.2 1280.26h8.4M108.2 1243.93h8.4M108.2 1207.6h8.4M108.2 1171.27h8.4M108.2 1134.94h8.4M108.2 1098.61h8.4M108.2 1062.28h8.4" stroke="#000" stroke-width="2.2" fill="none"/>
<text class="tk" transform="translate(93.6 1398.15) scale(1 1.04)">0</text>
<text class="tk" transform="translate(93.6 1361.82) scale(1 1.04)">0.2</text>
<text class="tk" transform="translate(93.6 1325.49) scale(1 1.04)">0.4</text>
<text class="tk" transform="translate(93.6 1289.16) scale(1 1.04)">0.6</text>
<text class="tk" transform="translate(93.6 1252.83) scale(1 1.04)">0.8</text>
<text class="tk" transform="translate(93.6 1216.5) scale(1 1.04)">1</text>
<text class="tk" transform="translate(93.6 1180.17) scale(1 1.04)">1.2</text>
<text class="tk" transform="translate(93.6 1143.84) scale(1 1.04)">1.4</text>
<text class="tk" transform="translate(93.6 1107.51) scale(1 1.04)">1.6</text>
<text class="tk" transform="translate(93.6 1071.18) scale(1 1.04)">1.8</text>
<path d="M118 1205.6H1739.5" stroke="#f00" stroke-width="2" stroke-dasharray="7.2 4.516" stroke-dashoffset="2" fill="none"/>
<text class="xl" transform="translate(149 1423.15) rotate(-45) scale(1 1.04)">DMSO</text>
<text class="xl" transform="translate(201.19 1423.15) rotate(-45) scale(1 1.04)">1</text>
<text class="xl" transform="translate(253.38 1423.15) rotate(-45) scale(1 1.04)">2</text>
<text class="xl" transform="translate(305.56 1423.15) rotate(-45) scale(1 1.04)">3</text>
<text class="xl" transform="translate(357.75 1423.15) rotate(-45) scale(1 1.04)">4</text>
<text class="xl" transform="translate(409.94 1423.15) rotate(-45) scale(1 1.04)">5</text>
<text class="xl" transform="translate(462.13 1423.15) rotate(-45) scale(1 1.04)">6</text>
<text class="xl" transform="translate(514.32 1423.15) rotate(-45) scale(1 1.04)">7</text>
<text class="xl" transform="translate(566.51 1423.15) rotate(-45) scale(1 1.04)">8</text>
<text class="xl" transform="translate(618.7 1423.15) rotate(-45) scale(1 1.04)">9</text>
<text class="xl" transform="translate(670.89 1423.15) rotate(-45) scale(1 1.04)">10</text>
<text class="xl" transform="translate(723.08 1423.15) rotate(-45) scale(1 1.04)">11</text>
<text class="xl" transform="translate(775.27 1423.15) rotate(-45) scale(1 1.04)">12</text>
<text class="xl" transform="translate(827.46 1423.15) rotate(-45) scale(1 1.04)">13</text>
<text class="xl" transform="translate(879.65 1423.15) rotate(-45) scale(1 1.04)">14</text>
<text class="xl" transform="translate(931.84 1423.15) rotate(-45) scale(1 1.04)">15</text>
<text class="xl" transform="translate(984.03 1423.15) rotate(-45) scale(1 1.04)">16</text>
<text class="xl" transform="translate(1036.22 1423.15) rotate(-45) scale(1 1.04)">17</text>
<text class="xl" transform="translate(1088.41 1423.15) rotate(-45) scale(1 1.04)">18</text>
<text class="xl" transform="translate(1140.61 1423.15) rotate(-45) scale(1 1.04)">19</text>
<text class="xl" transform="translate(1192.8 1423.15) rotate(-45) scale(1 1.04)">20</text>
<text class="xl" transform="translate(1244.99 1423.15) rotate(-45) scale(1 1.04)">21</text>
<text class="xl" transform="translate(1297.17 1423.15) rotate(-45) scale(1 1.04)">22</text>
<text class="xl" transform="translate(1349.37 1423.15) rotate(-45) scale(1 1.04)">23</text>
<text class="xl" transform="translate(1401.56 1423.15) rotate(-45) scale(1 1.04)">24</text>
<text class="xl" transform="translate(1453.75 1423.15) rotate(-45) scale(1 1.04)">25</text>
<text class="xl" transform="translate(1505.93 1423.15) rotate(-45) scale(1 1.04)">26</text>
<text class="xl" transform="translate(1558.12 1423.15) rotate(-45) scale(1 1.04)">27</text>
<text class="xl" transform="translate(1610.32 1423.15) rotate(-45) scale(1 1.04)">28</text>
<text class="xl" transform="translate(1662.51 1423.15) rotate(-45) scale(1 1.04)">29</text>
<text class="xl" transform="translate(1714.69 1423.15) rotate(-45) scale(1 1.04)">30</text>
<text style="font-size:30px" text-anchor="middle" transform="translate(35.5 1225.5) rotate(-90) scale(1 1.04)" xml:space="preserve">(relative to DMSO)</text>
<rect x="1594.05" y="1043.9" width="153.6" height="66.15" fill="#fff" stroke="#000" stroke-width="2.9" stroke-linejoin="round"/>
<text class="bx" transform="translate(1670.75 1089.65) scale(1 1.04)">50μM</text>
<text class="st" transform="translate(354 1243.7) scale(1 1.04)">*</text>
<text class="st" transform="translate(406.5 1246.7) scale(1 1.04)">**</text>
<text class="st" transform="translate(511.5 1246.7) scale(1 1.04)">**</text>
<text class="st" transform="translate(980 1250.2) scale(1 1.04)">**</text>
<text class="st" transform="translate(1084 1254.7) scale(1 1.04)">***</text>
<g><rect class="wb" x="127.69" y="1690.64" width="14.9" height="181.11"/><path d="M135.19 1689.56V1691.73M127.19 1689.56h16M127.19 1691.73h16" class="e"/><rect x="141.47" y="1690.1" width="17.5" height="181.65" fill="#000"/><path d="M150.22 1684.65V1690.1M142.22 1684.65h16" class="e"/><rect class="wb" x="179.89" y="1813.08" width="14.9" height="58.67"/><path d="M187.39 1812.17V1813.99M179.39 1812.17h16M179.39 1813.99h16" class="e"/><rect x="193.66" y="1865.03" width="17.5" height="6.72" fill="#000"/><rect class="wb" x="232.08" y="1684.47" width="14.9" height="187.28"/><path d="M239.58 1682.65V1686.29M231.58 1682.65h16M231.58 1686.29h16" class="e"/><rect x="245.84" y="1728.06" width="17.5" height="143.69" fill="#000"/><path d="M254.59 1703V1728.06M246.59 1703h16" class="e"/><rect x="282.96" y="1869.93" width="17.5" height="1.82" fill="#000"/><rect class="wb" x="336.46" y="1697.91" width="14.9" height="173.84"/><path d="M343.96 1696.09V1699.73M335.96 1696.09h16M335.96 1699.73h16" class="e"/><rect x="350.23" y="1745.5" width="17.5" height="126.25" fill="#000"/><path d="M358.98 1738.78V1745.5M350.98 1738.78h16" class="e"/><rect class="wb" x="388.64" y="1722.07" width="14.9" height="149.68"/><path d="M396.14 1720.62V1723.52M388.14 1720.62h16M388.14 1723.52h16" class="e"/><rect x="402.41" y="1774.93" width="17.5" height="96.82" fill="#000"/><path d="M411.16 1765.67V1774.93M403.16 1765.67h16" class="e"/><rect class="wb" x="440.84" y="1748.77" width="14.9" height="122.98"/><path d="M448.34 1747.32V1750.23M440.34 1747.32h16M440.34 1750.23h16" class="e"/><rect x="454.61" y="1698.82" width="17.5" height="172.93" fill="#000"/><path d="M463.36 1686.65V1698.82M455.36 1686.65h16" class="e"/><rect class="wb" x="493.02" y="1693.73" width="14.9" height="178.02"/><path d="M500.52 1692.82V1694.64M492.52 1692.82h16M492.52 1694.64h16" class="e"/><rect x="506.79" y="1701.91" width="17.5" height="169.84" fill="#000"/><path d="M515.54 1689.37V1701.91M507.54 1689.37h16" class="e"/><rect class="wb" x="545.21" y="1866.66" width="14.9" height="5.09"/><rect class="wb" x="597.4" y="1691.19" width="14.9" height="180.56"/><path d="M604.9 1683.38V1699M596.9 1683.38h16M596.9 1699h16" class="e"/><rect x="611.17" y="1710.44" width="17.5" height="161.31" fill="#000"/><path d="M619.92 1705V1710.44M611.92 1705h16" class="e"/><rect class="wb" x="649.59" y="1716.26" width="14.9" height="155.49"/><path d="M657.09 1714.08V1718.44M649.09 1714.08h16M649.09 1718.44h16" class="e"/><rect x="663.37" y="1667.03" width="17.5" height="204.72" fill="#000"/><path d="M672.12 1652.86V1667.03M664.12 1652.86h16" class="e"/><rect x="700.48" y="1869.21" width="17.5" height="2.54" fill="#000"/><rect class="wb" x="753.97" y="1738.06" width="14.9" height="133.69"/><path d="M761.47 1733.15V1742.96M753.47 1733.15h16M753.47 1742.96h16" class="e"/><rect x="767.75" y="1721.16" width="17.5" height="150.59" fill="#000"/><path d="M776.5 1711.35V1721.16M768.5 1711.35h16" class="e"/><rect class="wb" x="806.16" y="1701.91" width="14.9" height="169.84"/><path d="M813.66 1697.91V1705.9M805.66 1697.91h16M805.66 1705.9h16" class="e"/><rect x="819.93" y="1738.06" width="17.5" height="133.69" fill="#000"/><path d="M828.68 1732.06V1738.06M820.68 1732.06h16" class="e"/><rect class="wb" x="858.35" y="1681.74" width="14.9" height="190.01"/><path d="M865.85 1676.66V1686.83M857.85 1676.66h16M857.85 1686.83h16" class="e"/><rect x="872.12" y="1714.26" width="17.5" height="157.49" fill="#000"/><path d="M880.88 1690.46V1714.26M872.88 1690.46h16" class="e"/><rect class="wb" x="910.54" y="1708.81" width="14.9" height="162.94"/><path d="M918.04 1706.27V1711.35M910.04 1706.27h16M910.04 1711.35h16" class="e"/><rect x="924.31" y="1720.44" width="17.5" height="151.31" fill="#000"/><path d="M933.06 1711.72V1720.44M925.06 1711.72h16" class="e"/><rect class="wb" x="962.73" y="1678.66" width="14.9" height="193.09"/><path d="M970.23 1672.12V1685.2M962.23 1672.12h16M962.23 1685.2h16" class="e"/><rect x="976.5" y="1772.57" width="17.5" height="99.18" fill="#000"/><path d="M985.25 1760.04V1772.57M977.25 1760.04h16" class="e"/><rect class="wb" x="1014.92" y="1716.26" width="14.9" height="155.49"/><path d="M1022.42 1713.71V1718.8M1014.42 1713.71h16M1014.42 1718.8h16" class="e"/><rect x="1028.69" y="1720.8" width="17.5" height="150.95" fill="#000"/><path d="M1037.44 1711.72V1720.8M1029.44 1711.72h16" class="e"/><rect class="wb" x="1067.11" y="1716.26" width="14.9" height="155.49"/><path d="M1074.61 1714.8V1717.71M1066.61 1714.8h16M1066.61 1717.71h16" class="e"/><rect x="1080.88" y="1746.96" width="17.5" height="124.79" fill="#000"/><path d="M1089.63 1741.69V1746.96M1081.63 1741.69h16" class="e"/><rect class="wb" x="1119.3" y="1763.67" width="14.9" height="108.08"/><path d="M1126.8 1758.76V1768.57M1118.8 1758.76h16M1118.8 1768.57h16" class="e"/><rect x="1133.07" y="1659.95" width="17.5" height="211.8" fill="#000"/><path d="M1141.82 1640.87V1659.95M1133.82 1640.87h16" class="e"/><rect x="1170.19" y="1869.93" width="17.5" height="1.82" fill="#000"/><rect x="1185.26" y="1838.33" width="17.5" height="33.42" fill="#000"/><path d="M1194.01 1805.27V1838.33M1186.01 1805.27h16" class="e"/><rect class="wb" x="1223.68" y="1790.01" width="14.9" height="81.74"/><path d="M1231.18 1785.83V1794.19M1223.18 1785.83h16M1223.18 1794.19h16" class="e"/><rect x="1237.45" y="1762.4" width="17.5" height="109.35" fill="#000"/><path d="M1246.2 1752.59V1762.4M1238.2 1752.59h16" class="e"/><rect class="wb" x="1275.87" y="1867.57" width="14.9" height="4.18"/><rect class="wb" x="1328.06" y="1738.06" width="14.9" height="133.69"/><path d="M1335.56 1737.15V1738.96M1327.56 1737.15h16M1327.56 1738.96h16" class="e"/><rect x="1341.83" y="1655.95" width="17.5" height="215.8" fill="#000"/><path d="M1350.58 1637.78V1655.95M1342.58 1637.78h16" class="e"/><rect class="wb" x="1380.25" y="1728.06" width="14.9" height="143.69"/><path d="M1387.75 1722.98V1733.15M1379.75 1722.98h16M1379.75 1733.15h16" class="e"/><rect x="1394.02" y="1617.98" width="17.5" height="253.77" fill="#000"/><path d="M1402.77 1594.92V1617.98M1394.77 1594.92h16" class="e"/><rect class="wb" x="1432.44" y="1680.65" width="14.9" height="191.1"/><path d="M1439.94 1679.56V1681.74M1431.94 1679.56h16M1431.94 1681.74h16" class="e"/><rect x="1446.21" y="1698.27" width="17.5" height="173.48" fill="#000"/><path d="M1454.96 1695.55V1698.27M1446.96 1695.55h16" class="e"/><rect class="wb" x="1484.63" y="1757.31" width="14.9" height="114.44"/><path d="M1492.13 1756.22V1758.4M1484.13 1756.22h16M1484.13 1758.4h16" class="e"/><rect x="1498.4" y="1639.96" width="17.5" height="231.79" fill="#000"/><rect class="wb" x="1536.82" y="1764.03" width="14.9" height="107.72"/><path d="M1544.32 1762.94V1765.12M1536.32 1762.94h16M1536.32 1765.12h16" class="e"/><rect x="1550.59" y="1693.01" width="17.5" height="178.74" fill="#000"/><path d="M1559.34 1680.84V1693.01M1551.34 1680.84h16" class="e"/><rect class="wb" x="1589.01" y="1791.28" width="14.9" height="80.47"/><path d="M1596.51 1789.46V1793.1M1588.51 1789.46h16M1588.51 1793.1h16" class="e"/><rect x="1602.78" y="1807.45" width="17.5" height="64.3" fill="#000"/><path d="M1611.53 1804.9V1807.45M1603.53 1804.9h16" class="e"/><rect class="wb" x="1641.2" y="1767.3" width="14.9" height="104.45"/><path d="M1648.7 1766.21V1768.39M1640.7 1766.21h16M1640.7 1768.39h16" class="e"/><rect x="1654.97" y="1760.76" width="17.5" height="110.99" fill="#000"/><path d="M1663.72 1756.22V1760.76M1655.72 1756.22h16" class="e"/><rect class="wb" x="1693.39" y="1702.45" width="14.9" height="169.3"/><path d="M1700.89 1699V1705.9M1692.89 1699h16M1692.89 1705.9h16" class="e"/><rect x="1707.16" y="1718.07" width="17.5" height="153.68" fill="#000"/><path d="M1715.91 1707.18V1718.07M1707.91 1707.18h16" class="e"/></g>
<path d="M116.6 1543.68V1872.75" stroke="#000" stroke-width="2.2" fill="none"/>
<path d="M108.2 1871.95H1734.5" stroke="#000" stroke-width="2.6" fill="none"/>
<path d="M108.2 1835.42h8.4M108.2 1799.09h8.4M108.2 1762.76h8.4M108.2 1726.43h8.4M108.2 1690.1h8.4M108.2 1653.77h8.4M108.2 1617.44h8.4M108.2 1581.11h8.4M108.2 1544.78h8.4" stroke="#000" stroke-width="2.2" fill="none"/>
<text class="tk" transform="translate(93.6 1880.65) scale(1 1.04)">0</text>
<text class="tk" transform="translate(93.6 1844.32) scale(1 1.04)">0.2</text>
<text class="tk" transform="translate(93.6 1807.99) scale(1 1.04)">0.4</text>
<text class="tk" transform="translate(93.6 1771.66) scale(1 1.04)">0.6</text>
<text class="tk" transform="translate(93.6 1735.33) scale(1 1.04)">0.8</text>
<text class="tk" transform="translate(93.6 1699) scale(1 1.04)">1</text>
<text class="tk" transform="translate(93.6 1662.67) scale(1 1.04)">1.2</text>
<text class="tk" transform="translate(93.6 1626.34) scale(1 1.04)">1.4</text>
<text class="tk" transform="translate(93.6 1590.01) scale(1 1.04)">1.6</text>
<text class="tk" transform="translate(93.6 1553.68) scale(1 1.04)">1.8</text>
<path d="M118 1688.75H1739.5" stroke="#f00" stroke-width="2" stroke-dasharray="7.2 4.516" stroke-dashoffset="2" fill="none"/>
<text class="xl" transform="translate(149 1905.65) rotate(-45) scale(1 1.04)">DMSO</text>
<text class="xl" transform="translate(201.19 1905.65) rotate(-45) scale(1 1.04)">1</text>
<text class="xl" transform="translate(253.38 1905.65) rotate(-45) scale(1 1.04)">2</text>
<text class="xl" transform="translate(305.56 1905.65) rotate(-45) scale(1 1.04)">3</text>
<text class="xl" transform="translate(357.75 1905.65) rotate(-45) scale(1 1.04)">4</text>
<text class="xl" transform="translate(409.94 1905.65) rotate(-45) scale(1 1.04)">5</text>
<text class="xl" transform="translate(462.13 1905.65) rotate(-45) scale(1 1.04)">6</text>
<text class="xl" transform="translate(514.32 1905.65) rotate(-45) scale(1 1.04)">7</text>
<text class="xl" transform="translate(566.51 1905.65) rotate(-45) scale(1 1.04)">8</text>
<text class="xl" transform="translate(618.7 1905.65) rotate(-45) scale(1 1.04)">9</text>
<text class="xl" transform="translate(670.89 1905.65) rotate(-45) scale(1 1.04)">10</text>
<text class="xl" transform="translate(723.08 1905.65) rotate(-45) scale(1 1.04)">11</text>
<text class="xl" transform="translate(775.27 1905.65) rotate(-45) scale(1 1.04)">12</text>
<text class="xl" transform="translate(827.46 1905.65) rotate(-45) scale(1 1.04)">13</text>
<text class="xl" transform="translate(879.65 1905.65) rotate(-45) scale(1 1.04)">14</text>
<text class="xl" transform="translate(931.84 1905.65) rotate(-45) scale(1 1.04)">15</text>
<text class="xl" transform="translate(984.03 1905.65) rotate(-45) scale(1 1.04)">16</text>
<text class="xl" transform="translate(1036.22 1905.65) rotate(-45) scale(1 1.04)">17</text>
<text class="xl" transform="translate(1088.41 1905.65) rotate(-45) scale(1 1.04)">18</text>
<text class="xl" transform="translate(1140.61 1905.65) rotate(-45) scale(1 1.04)">19</text>
<text class="xl" transform="translate(1192.8 1905.65) rotate(-45) scale(1 1.04)">20</text>
<text class="xl" transform="translate(1244.99 1905.65) rotate(-45) scale(1 1.04)">21</text>
<text class="xl" transform="translate(1297.17 1905.65) rotate(-45) scale(1 1.04)">22</text>
<text class="xl" transform="translate(1349.37 1905.65) rotate(-45) scale(1 1.04)">23</text>
<text class="xl" transform="translate(1401.56 1905.65) rotate(-45) scale(1 1.04)">24</text>
<text class="xl" transform="translate(1453.75 1905.65) rotate(-45) scale(1 1.04)">25</text>
<text class="xl" transform="translate(1505.93 1905.65) rotate(-45) scale(1 1.04)">26</text>
<text class="xl" transform="translate(1558.12 1905.65) rotate(-45) scale(1 1.04)">27</text>
<text class="xl" transform="translate(1610.32 1905.65) rotate(-45) scale(1 1.04)">28</text>
<text class="xl" transform="translate(1662.51 1905.65) rotate(-45) scale(1 1.04)">29</text>
<text class="xl" transform="translate(1714.69 1905.65) rotate(-45) scale(1 1.04)">30</text>
<text style="font-size:30px" text-anchor="middle" transform="translate(35.5 1707) rotate(-90) scale(1 1.04)" xml:space="preserve">(relative  to DMSO)</text>
<rect x="1594.05" y="1527.15" width="153.6" height="66.15" fill="#fff" stroke="#000" stroke-width="2.9" stroke-linejoin="round"/>
<text class="bx" transform="translate(1670.75 1572.9) scale(1 1.04)">100μM</text>
<text class="st" transform="translate(353 1738.2) scale(1 1.04)">**</text>
<text class="st" transform="translate(405 1763.7) scale(1 1.04)">***</text>
<text class="st" transform="translate(824 1731.45) scale(1 1.04)">**</text>
<text class="st" transform="translate(980 1758.7) scale(1 1.04)">***</text>
<text class="st" transform="translate(1084 1740.2) scale(1 1.04)">***</text>
<text class="im" style="font-size:34.4px" transform="translate(751.8 2035.5) scale(1 1.04)">Tannic acid</text>
<rect x="318.8" y="2054.2" width="867.2" height="5.6" fill="#000"/>
<text class="im" transform="translate(173.7 2104.4) scale(1 1.04)">DMSO</text>
<text class="im" transform="translate(465.5 2104.4) scale(1 1.04)">1μM</text>
<text class="im" transform="translate(751.8 2104.6) scale(1 1.04)">3μM</text>
<text class="im" transform="translate(1043 2101.1) scale(1 1.04)">10μM</text>
<defs><filter id="bz" x="-50%" y="-50%" width="200%" height="200%"><feGaussianBlur stdDeviation="40"/></filter><filter id="bd" x="-50%" y="-50%" width="200%" height="200%"><feGaussianBlur stdDeviation="13"/></filter><filter id="bd20" x="-50%" y="-50%" width="200%" height="200%"><feGaussianBlur stdDeviation="20"/></filter><filter id="bd26" x="-50%" y="-50%" width="200%" height="200%"><feGaussianBlur stdDeviation="26"/></filter><filter id="bc" x="-50%" y="-50%" width="200%" height="200%"><feGaussianBlur stdDeviation="32"/></filter><filter id="bh" x="-50%" y="-50%" width="200%" height="200%"><feGaussianBlur stdDeviation="18"/></filter><filter id="bi" x="-50%" y="-50%" width="200%" height="200%"><feGaussianBlur stdDeviation="5"/></filter></defs>
<svg x="29.9" y="2125.9" width="287.3" height="288.8" viewBox="52 57 1505 1513" preserveAspectRatio="none">
<rect x="42" y="47" width="1525" height="1533" fill="#000c00"/>
<g filter="url(#bz)"><polygon points="1250,850 1557,740 1557,1450 1350,1480 1220,1250" fill="#002d00" stroke="#002d00"/></g>
<g filter="url(#bd26)" stroke-width="30" stroke-linejoin="round"><polygon points="52,170 140,190 300,330 420,470 440,600 340,640 230,560 120,430 52,380" fill="#004600" stroke="#004600"/><polygon points="52,520 130,530 190,620 150,720 52,740" fill="#006400" stroke="#006400"/><ellipse cx="1060" cy="680" rx="190" ry="230" fill="#004600"/><polygon points="1030,1320 1150,1280 1260,1330 1310,1450 1330,1570 1010,1570 1000,1450" fill="#007300" stroke="#007300"/><polygon points="1490,540 1557,520 1557,700 1510,680" fill="#006e00" stroke="#006e00"/><polygon points="640,190 760,170 900,200 1060,190 1090,260 1010,330 1000,420 930,520 880,620 850,700 800,640 770,520 720,400 660,300" fill="#007d00" stroke="#007d00"/><polygon points="620,520 720,600 790,700 800,850 780,960 740,1040 640,1060 500,1070 420,1010 400,900 450,780 540,650" fill="#008700" stroke="#008700"/><polygon points="1470,230 1500,240 1470,400 1410,560 1400,720 1370,800 1250,900 1180,1000 1140,1100 1060,1190 1000,1160 1010,1050 1080,920 1180,740 1290,620 1360,520 1420,380" fill="#009600" stroke="#009600"/><polygon points="110,1400 250,1300 420,1150 560,1100 740,1060 760,1200 830,1280 990,1290 960,1380 850,1440 700,1480 450,1450 300,1470 200,1530 130,1480" fill="#009600" stroke="#009600"/></g>
<g filter="url(#bc)" style="mix-blend-mode:lighten"><ellipse cx="850" cy="330" rx="90" ry="80" fill="#009600"/><ellipse cx="600" cy="850" rx="90" ry="140" fill="#00b400" transform="rotate(25 600 850)"/><ellipse cx="620" cy="1290" rx="180" ry="90" fill="#00cd00"/><ellipse cx="1250" cy="760" rx="70" ry="140" fill="#00be00" transform="rotate(35 1250 760)"/></g>
<g filter="url(#bi)"><ellipse cx="890" cy="285" rx="55" ry="45" fill="#00ff00"/><ellipse cx="935" cy="335" rx="16" ry="16" fill="#00eb00"/><ellipse cx="630" cy="745" rx="42" ry="42" fill="#00ff00"/><ellipse cx="1255" cy="400" rx="14" ry="14" fill="#00a000"/></g>
</svg>
<svg x="322.1" y="2125.9" width="284.8" height="288.8" viewBox="53 57 1492 1513" preserveAspectRatio="none">
<rect x="43" y="47" width="1512" height="1533" fill="#000c00"/>
<g filter="url(#bz)"><polygon points="1050,100 1545,150 1545,320 1300,320 1100,400" fill="#002d00" stroke="#002d00"/><polygon points="480,1330 1000,1300 1070,1420 1000,1570 500,1570" fill="#004100" stroke="#004100"/><polygon points="900,800 1230,770 1300,900 1150,960 950,900" fill="#003700" stroke="#003700"/></g>
<g filter="url(#bd20)" stroke-width="36" stroke-linejoin="round"><polygon points="720,57 1000,57 1060,200 1020,330 900,400 780,360 720,220" fill="#005500" stroke="#005500"/><polygon points="380,57 560,57 540,120 420,110" fill="#005f00" stroke="#005f00"/><polygon points="230,340 380,330 450,450 460,640 420,820 330,940 220,900 150,760 160,560" fill="#006400" stroke="#006400"/><polygon points="470,430 650,400 760,440 800,540 720,640 540,650 460,560" fill="#005a00" stroke="#005a00"/><polygon points="690,620 900,600 960,650 960,760 860,800 720,760" fill="#007d00" stroke="#007d00"/><polygon points="1130,420 1300,330 1450,310 1545,330 1545,640 1440,760 1300,740 1180,640" fill="#006900" stroke="#006900"/><polygon points="340,870 480,880 620,1000 690,1180 660,1290 560,1300 440,1180 350,1020" fill="#006e00" stroke="#006e00"/><polygon points="700,900 900,930 1080,1020 1160,1120 1120,1260 980,1330 800,1290 720,1180 690,1020" fill="#007800" stroke="#007800"/><polygon points="53,1300 180,1320 260,1450 230,1570 53,1570" fill="#006400" stroke="#006400"/><polygon points="1290,1100 1420,980 1545,990 1545,1430 1500,1560 1100,1570 1060,1500 1120,1330 1200,1200" fill="#00be00" stroke="#00be00"/></g>
<g filter="url(#bc)" style="mix-blend-mode:lighten"><ellipse cx="310" cy="520" rx="80" ry="120" fill="#007d00"/><ellipse cx="1450" cy="480" rx="90" ry="120" fill="#008200"/><ellipse cx="470" cy="1000" rx="80" ry="100" fill="#008200"/><ellipse cx="900" cy="1100" rx="120" ry="100" fill="#009600"/><ellipse cx="1350" cy="1440" rx="140" ry="90" fill="#00e400"/><ellipse cx="1490" cy="1150" rx="55" ry="110" fill="#00de00"/></g>
<g filter="url(#bh)"><polygon points="1280,1230 1340,1230 1460,1370 1440,1420 1380,1400 1300,1300" fill="#002800" stroke="#002800"/></g>
<g filter="url(#bi)"><ellipse cx="878" cy="215" rx="8" ry="8" fill="#00dc00"/><ellipse cx="882" cy="242" rx="8" ry="8" fill="#00dc00"/><ellipse cx="768" cy="280" rx="11" ry="9" fill="#00dc00"/><ellipse cx="765" cy="470" rx="35" ry="28" fill="#00aa00"/><ellipse cx="910" cy="710" rx="20" ry="40" fill="#00ff00"/><ellipse cx="895" cy="1080" rx="24" ry="24" fill="#00fa00"/><ellipse cx="905" cy="1125" rx="20" ry="18" fill="#00fa00"/></g>
</svg>
<svg x="612.1" y="2125.9" width="284.2" height="288.8" viewBox="53 57 1489 1513" preserveAspectRatio="none">
<rect x="43" y="47" width="1509" height="1533" fill="#000d00"/>
<g filter="url(#bz)"><polygon points="1250,57 1542,57 1542,170 1400,130" fill="#004600" stroke="#004600"/></g>
<g filter="url(#bd)" stroke-width="44" stroke-linejoin="round"><polygon points="70,140 250,110 450,130 620,230 600,330 450,350 250,330 100,300" fill="#007300" stroke="#007300"/><polygon points="53,300 110,340 130,470 53,520" fill="#007800" stroke="#007800"/><polygon points="53,600 200,620 400,580 600,570 660,700 640,880 480,950 250,940 100,900 53,850" fill="#007300" stroke="#007300"/><polygon points="53,960 170,980 220,1150 170,1350 53,1400" fill="#006e00" stroke="#006e00"/><polygon points="560,350 650,290 760,340 880,420 910,560 850,700 720,700 620,600 570,480" fill="#00a000" stroke="#00a000"/><polygon points="880,560 1020,580 1120,720 1190,900 1170,980 1000,1000 860,960 800,860 840,700" fill="#00a000" stroke="#00a000"/><polygon points="1250,370 1390,440 1500,580 1480,760 1400,880 1280,900 1180,800 1170,620 1200,470" fill="#00a000" stroke="#00a000"/><polygon points="1542,820 1542,1060 1420,1130 1300,1230 1170,1270 1230,1130 1330,980 1440,850" fill="#00aa00" stroke="#00aa00"/><polygon points="640,1000 800,980 930,1050 1000,1180 990,1280 900,1360 800,1380 700,1290 640,1150" fill="#00a000" stroke="#00a000"/><polygon points="230,1110 380,1110 560,1170 610,1300 560,1470 500,1570 440,1450 380,1300 280,1230 200,1240" fill="#009600" stroke="#009600"/></g>
<g filter="url(#bc)" style="mix-blend-mode:lighten"><ellipse cx="200" cy="230" rx="90" ry="60" fill="#008c00"/><ellipse cx="250" cy="850" rx="120" ry="70" fill="#008c00"/><ellipse cx="710" cy="480" rx="85" ry="80" fill="#00cd00"/><ellipse cx="970" cy="740" rx="75" ry="110" fill="#00cd00"/><ellipse cx="1330" cy="650" rx="80" ry="110" fill="#00cd00"/><ellipse cx="800" cy="1110" rx="105" ry="80" fill="#00c300"/><ellipse cx="470" cy="1300" rx="65" ry="110" fill="#00ac00"/></g>
<g filter="url(#bi)"><polygon points="730,280 810,205 850,215 880,295 760,340" fill="#00ff00" stroke="#00ff00"/></g>
</svg>
<svg x="901.9" y="2125.9" width="286.9" height="288.8" viewBox="52 57 1503 1513" preserveAspectRatio="none">
<rect x="42" y="47" width="1523" height="1533" fill="#000d00"/>
<g filter="url(#bz)"><polygon points="900,57 1555,57 1555,420 1300,450 1100,330 950,160" fill="#003c00" stroke="#003c00"/><polygon points="1100,850 1555,800 1555,1100 1200,1100" fill="#003200" stroke="#003200"/></g>
<g filter="url(#bd)" stroke-width="44" stroke-linejoin="round"><ellipse cx="960" cy="560" rx="140" ry="170" fill="#005a00"/><polygon points="53,1270 220,1300 230,1570 53,1570" fill="#005a00" stroke="#005a00"/><polygon points="870,1050 990,1040 1050,1300 1010,1570 850,1570 840,1300" fill="#007300" stroke="#007300"/><polygon points="690,800 950,750 1010,830 920,950 720,970 660,900" fill="#007300" stroke="#007300"/><polygon points="560,210 700,90 860,100 920,250 880,420 830,640 720,790 560,860 440,780 440,560 480,380" fill="#008200" stroke="#008200"/><polygon points="400,170 450,220 420,400 390,600 380,780 330,900 180,900 90,810 120,640 180,420 280,260" fill="#00a000" stroke="#00a000"/><polygon points="1100,620 1230,470 1400,480 1555,430 1520,560 1430,700 1390,790 1270,800 1190,730" fill="#00be00" stroke="#00be00"/><polygon points="60,1100 230,960 420,970 590,1030 500,1130 320,1220 90,1250" fill="#00a500" stroke="#00a500"/><polygon points="480,1160 600,1040 860,1020 870,1200 800,1380 680,1350 560,1260" fill="#00b400" stroke="#00b400"/><polygon points="210,1440 290,1260 470,1230 640,1330 800,1440 830,1570 480,1530 300,1560" fill="#00af00" stroke="#00af00"/><ellipse cx="1080" cy="1130" rx="95" ry="100" fill="#00af00"/><ellipse cx="1280" cy="1230" rx="100" ry="100" fill="#00a500"/></g>
<g filter="url(#bc)" style="mix-blend-mode:lighten"><ellipse cx="680" cy="420" rx="90" ry="140" fill="#00aa00" transform="rotate(20 680 420)"/><ellipse cx="250" cy="700" rx="75" ry="130" fill="#00cd00" transform="rotate(15 250 700)"/><ellipse cx="1300" cy="580" rx="100" ry="80" fill="#00e800"/><ellipse cx="320" cy="1090" rx="140" ry="70" fill="#00c300"/><ellipse cx="660" cy="1240" rx="100" ry="90" fill="#00e100"/><ellipse cx="540" cy="1400" rx="120" ry="80" fill="#00dc00"/><ellipse cx="1080" cy="1130" rx="55" ry="60" fill="#00c300"/></g>
<g filter="url(#bi)"><ellipse cx="730" cy="540" rx="7" ry="14" fill="#00f000"/></g>
</svg>
<rect x="1091.5" y="2403" width="87.7" height="4.1" fill="#fff"/>
<text class="b w" style="font-size:27px" text-anchor="middle" transform="translate(1136.8 2388) scale(1 1.09)">50μm</text>
<rect x="1352.9" y="2015.3" width="22.5" height="21.5" fill="#fff" stroke="#000" stroke-width="1"/>
<rect x="1352.4" y="2052.2" width="23.4" height="22.6" fill="#000"/>
<text class="cl" transform="translate(1388.5 2037.8) scale(1 1.04)">Number of nuclei</text>
<text class="cl" transform="translate(1388.5 2075) scale(1 1.04)">%inclusion-positive cells</text>
<rect x="1347.3" y="2131.54" width="29.1" height="232.56" fill="#fff" stroke="#a9a9a9" stroke-width="2.4"/>
<rect x="1376.2" y="2131.27" width="30.8" height="232.83" fill="#1a1a1a" stroke="#000" stroke-width="1.4"/>
<path d="M1362.2 2129.01V2133.99M1354.2 2129.01h16M1354.2 2133.99h16" stroke="#111" stroke-width="1.9" fill="none"/>
<path d="M1391.7 2130.34V2132.2M1383.7 2130.34h16M1383.7 2132.2h16" stroke="#111" stroke-width="1.9" fill="none"/>
<rect x="1451.3" y="2125.61" width="29.1" height="238.49" fill="#fff" stroke="#a9a9a9" stroke-width="2.4"/>
<rect x="1480.2" y="2144.53" width="30.8" height="219.57" fill="#1a1a1a" stroke="#000" stroke-width="1.4"/>
<path d="M1466.2 2117.99V2132.69M1458.2 2117.99h16M1458.2 2132.69h16" stroke="#111" stroke-width="1.9" fill="none"/>
<path d="M1495.7 2137.78V2151.27M1487.7 2137.78h16M1487.7 2151.27h16" stroke="#111" stroke-width="1.9" fill="none"/>
<rect x="1555.3" y="2148.28" width="29.1" height="215.82" fill="#fff" stroke="#a9a9a9" stroke-width="2.4"/>
<rect x="1584.2" y="2315.26" width="30.8" height="48.84" fill="#1a1a1a" stroke="#000" stroke-width="1.4"/>
<path d="M1570.2 2139.06V2156.27M1562.2 2139.06h16M1562.2 2156.27h16" stroke="#111" stroke-width="1.9" fill="none"/>
<path d="M1599.7 2312.35V2316.53M1591.7 2312.35h16M1591.7 2316.53h16" stroke="#111" stroke-width="1.9" fill="none"/>
<rect x="1659.3" y="2151.77" width="29.1" height="212.33" fill="#fff" stroke="#a9a9a9" stroke-width="2.4"/>
<rect x="1688.2" y="2334.56" width="30.8" height="29.54" fill="#1a1a1a" stroke="#000" stroke-width="1.4"/>
<path d="M1674.2 2147.48V2155.29M1666.2 2147.48h16M1666.2 2155.29h16" stroke="#111" stroke-width="1.9" fill="none"/>
<path d="M1703.7 2329.28V2339.51M1695.7 2329.28h16M1695.7 2339.51h16" stroke="#111" stroke-width="1.9" fill="none"/>
<path d="M1325.8 2084.08V2365.1" stroke="#000" stroke-width="2.2" fill="none"/>
<path d="M1317.5 2364.5H1740.6" stroke="#000" stroke-width="3" fill="none"/>
<path d="M1317.5 2317.58h8.5M1317.5 2271.06h8.5M1317.5 2224.54h8.5M1317.5 2178.02h8.5M1317.5 2131.5h8.5M1317.5 2084.98h8.5" stroke="#000" stroke-width="1.8" fill="none"/>
<text class="ctk" transform="translate(1302 2372.7) scale(1 1.04)">0</text>
<text class="ctk" transform="translate(1302 2326.18) scale(1 1.04)">0.2</text>
<text class="ctk" transform="translate(1302 2279.66) scale(1 1.04)">0.4</text>
<text class="ctk" transform="translate(1302 2233.14) scale(1 1.04)">0.6</text>
<text class="ctk" transform="translate(1302 2186.62) scale(1 1.04)">0.8</text>
<text class="ctk" transform="translate(1302 2140.1) scale(1 1.04)">1</text>
<text class="ctk" transform="translate(1302 2093.58) scale(1 1.04)">1.2</text>
<text style="font-size:27px" text-anchor="middle" transform="translate(1245.7 2209.5) rotate(-90) scale(1 1.04)">(rel. to DMSO)</text>
<text class="st" transform="translate(1583.6 2300.5) scale(1 1.04)">***</text>
<text class="st" transform="translate(1687.6 2322.5) scale(1 1.04)">***</text>
<text class="cx" transform="translate(1377.5 2411) scale(1 1.04)">DMSO</text>
<text class="cx" transform="translate(1480.5 2411) scale(1 1.04)">1</text>
<text class="cx" transform="translate(1584.6 2411) scale(1 1.04)">3</text>
<text class="cx" transform="translate(1690.5 2411) scale(1 1.04)">10</text>
<rect x="1453.4" y="2420" width="266" height="3.5" fill="#000"/>
<text class="cx" transform="translate(1587 2471) scale(1 1.04)">Tannic acid (μM)</text>
</svg></body></html>
